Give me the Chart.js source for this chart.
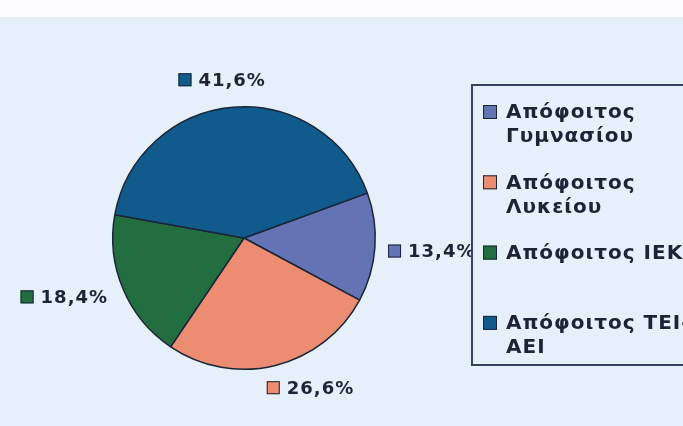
<!DOCTYPE html>
<html>
<head>
<meta charset="utf-8">
<script src="https://cdn.jsdelivr.net/npm/chart.js@4"></script>
<style>
  html, body { margin: 0; padding: 0; overflow: hidden; background: #e6f0fb; }
  canvas { display: block; }
</style>
</head>
<body>
<canvas id="pieChart" width="683" height="426"></canvas>
<script>
// Education level shares (%)
const categories = [
    ['Απόφοιτος', 'Γυμνασίου'],
    ['Απόφοιτος', 'Λυκείου'],
    ['Απόφοιτος ΙΕΚ', ''],
    ['Απόφοιτος ΤΕΙ-', 'ΑΕΙ']
];
const shares = [13.4, 26.6, 18.4, 41.6];
const sliceColors = ['#6473b4', '#eb8c73', '#236e41', '#105a8c'];

const INK = '#1b2538';
const BG = '#e6f0fb';

// light page, with the white strip along the top edge
const backgroundPlugin = {
    id: 'background',
    beforeDraw(chart) {
        const ctx = chart.ctx;
        ctx.save();
        ctx.fillStyle = BG;
        ctx.fillRect(0, 0, chart.width, chart.height);
        ctx.fillStyle = '#fdfdff';
        ctx.fillRect(0, 0, chart.width, 17);
        ctx.restore();
    }
};

// "■41,6%" labels around the pie
const sliceLabels = {
    id: 'sliceLabels',
    afterDatasetsDraw(chart, args, opts) {
        const ctx = chart.ctx;
        const arcs = chart.getDatasetMeta(0).data;
        ctx.save();
        ctx.font = 'bold 18px "DejaVu Sans"';
        ctx.letterSpacing = '1px';
        ctx.textBaseline = 'middle';
        ctx.textAlign = 'left';
        arcs.forEach((arc, i) => {
            const p = arc.getProps(['x', 'y', 'startAngle', 'endAngle', 'outerRadius'], true);
            const mid = (p.startAngle + p.endAngle) / 2 + opts.turn[i] * Math.PI / 180;
            const d = p.outerRadius + opts.extra[i];
            const cx = p.x + Math.cos(mid) * d;
            const cy = p.y + Math.sin(mid) * d;
            const text = shares[i].toFixed(1).replace('.', ',') + '%';
            const w = 13 + 7 + ctx.measureText(text).width;
            const x0 = cx - w / 2;
            ctx.fillStyle = sliceColors[i];
            ctx.fillRect(x0, cy - 7, 13, 13);
            ctx.strokeStyle = INK;
            ctx.lineWidth = 1;
            ctx.strokeRect(x0 + 0.5, cy - 6.5, 12, 12);
            ctx.fillStyle = INK;
            ctx.fillText(text, x0 + 20, cy + 1);
        });
        ctx.restore();
    }
};

// boxed legend on the right, running off the edge
const boxLegend = {
    id: 'boxLegend',
    afterDraw(chart, args, opts) {
        const ctx = chart.ctx;
        const left = opts.left, top = opts.top, bottom = opts.bottom;
        ctx.save();
        ctx.fillStyle = BG;
        ctx.fillRect(left, top, chart.width - left + 10, bottom - top);
        ctx.strokeStyle = '#34445c';
        ctx.lineWidth = 2;
        ctx.strokeRect(left, top, chart.width - left + 10, bottom - top);
        ctx.font = 'bold 20px "DejaVu Sans"';
        ctx.letterSpacing = '1px';
        ctx.textBaseline = 'middle';
        ctx.textAlign = 'left';
        categories.forEach((lines, i) => {
            const y = opts.firstRow + i * opts.itemGap;
            ctx.fillStyle = sliceColors[i];
            ctx.fillRect(left + 11, y - 7, 14, 14);
            ctx.strokeStyle = INK;
            ctx.lineWidth = 1;
            ctx.strokeRect(left + 11.5, y - 6.5, 13, 13);
            ctx.fillStyle = INK;
            lines.forEach((line, j) => {
                ctx.fillText(line, left + 34, y + j * opts.lineGap + 1);
            });
        });
        ctx.restore();
    }
};

new Chart(document.getElementById('pieChart').getContext('2d'), {
    type: 'pie',
    data: {
        labels: categories,
        datasets: [{
            data: shares,
            backgroundColor: sliceColors,
            borderColor: INK,
            borderWidth: 1.5
        }]
    },
    options: {
        responsive: false,
        animation: false,
        rotation: 70,
        layout: { padding: { left: 112, right: 307, top: 106, bottom: 56 } },
        plugins: {
            legend: { display: false },
            tooltip: { enabled: false },
            sliceLabels: { extra: [57, 33, 58, 28], turn: [0, -10, 4.6, -3] },
            boxLegend: { left: 472, top: 85, bottom: 365, firstRow: 112, itemGap: 70.3, lineGap: 24 }
        }
    },
    plugins: [backgroundPlugin, sliceLabels, boxLegend]
});
</script>
</body>
</html>
